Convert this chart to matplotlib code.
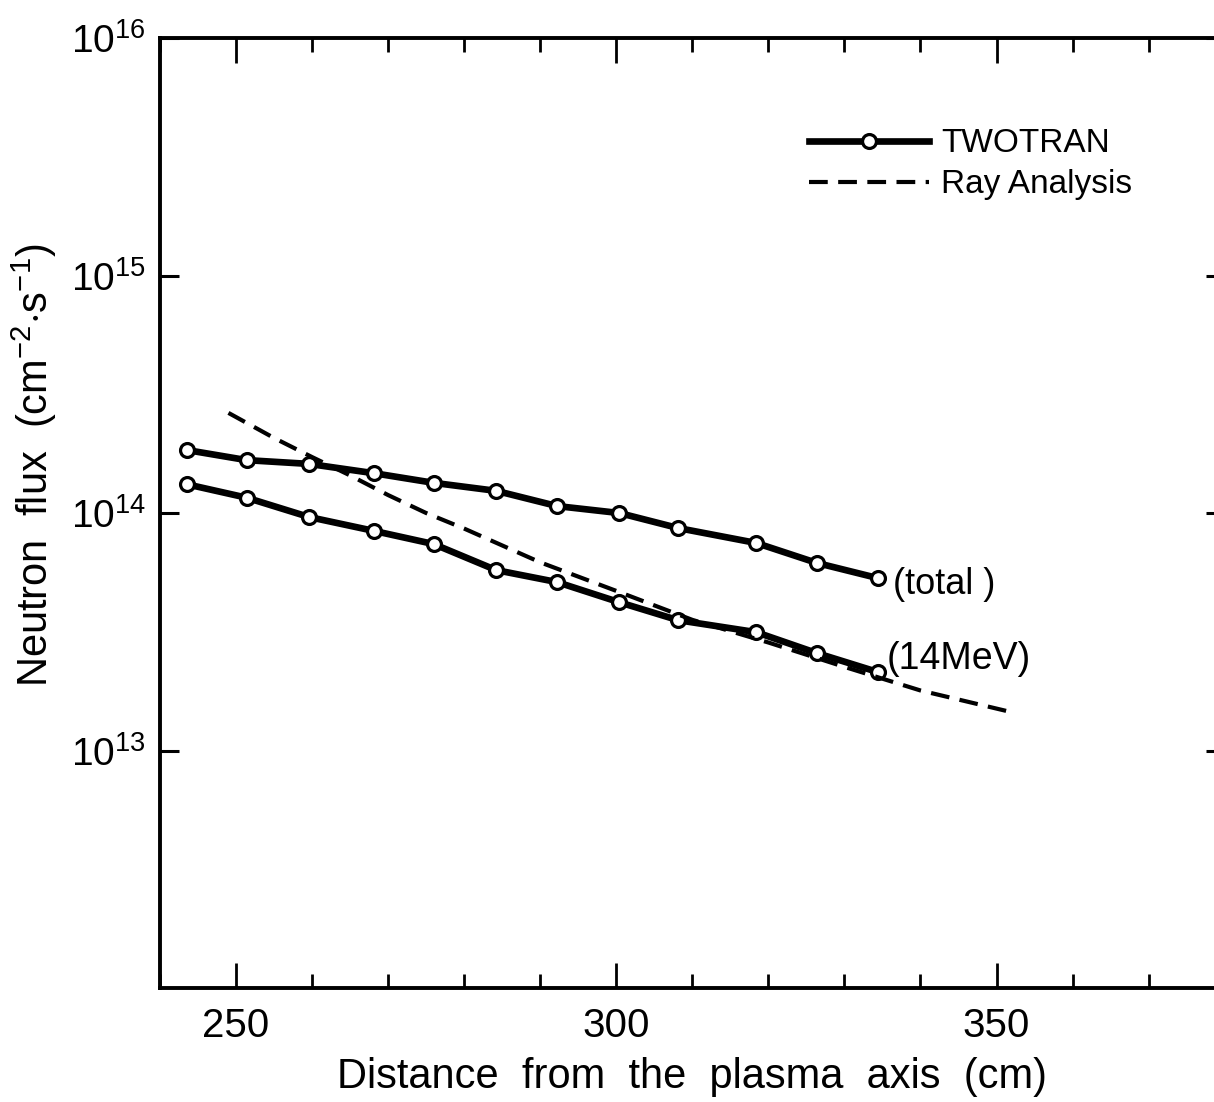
import matplotlib
matplotlib.use("Agg")
import matplotlib.pyplot as plt
from matplotlib.ticker import FixedLocator, MultipleLocator, NullLocator

plt.rcParams['font.family'] = ['Liberation Sans', 'DejaVu Sans']
plt.rcParams['mathtext.fontset'] = 'custom'
plt.rcParams['mathtext.rm'] = 'Liberation Sans'
plt.rcParams['mathtext.it'] = 'Liberation Sans'

# TWOTRAN calculation points (cm, n/cm2/s)
twotran_x = [243.6, 251.4, 259.6, 268.2, 276.0, 284.2, 292.2, 300.4, 308.1, 318.4, 326.4, 334.4]
total_flux = [1.84e14, 1.67e14, 1.61e14, 1.47e14, 1.34e14, 1.24e14, 1.07e14, 1.00e14,
              8.65e13, 7.48e13, 6.16e13, 5.32e13]
mev14_flux = [1.32e14, 1.16e14, 9.62e13, 8.40e13, 7.40e13, 5.75e13, 5.12e13, 4.21e13,
              3.54e13, 3.15e13, 2.57e13, 2.14e13]

# Ray analysis curve
ray_x = [249, 255, 260, 265, 270, 275, 280, 290, 300, 310, 320, 330, 340, 352]
ray_flux = [2.64e14, 2.07e14, 1.72e14, 1.44e14, 1.19e14, 1.00e14, 8.6e13, 6.2e13,
            4.7e13, 3.55e13, 2.85e13, 2.25e13, 1.79e13, 1.45e13]

fig = plt.figure(figsize=(12.14, 11.02), dpi=100)
ax = fig.add_axes([0.1318, 0.1034, 0.877, 0.8621])

line_kw = dict(color='black', lw=4.8, marker='o', markersize=10,
               markerfacecolor='white', markeredgecolor='black', markeredgewidth=2.3)
ax.plot(twotran_x, total_flux, label='TWOTRAN', **line_kw)
ax.plot(twotran_x, mev14_flux, **line_kw)
ax.plot(ray_x, ray_flux, color='black', lw=3.0, linestyle=(0, (4.5, 2.5)),
        label='Ray Analysis')

ax.set_yscale('log')
ax.set_xlim(240, 380)
ax.set_ylim(1e12, 1e16)

ax.xaxis.set_major_locator(FixedLocator([250, 300, 350]))
ax.xaxis.set_minor_locator(MultipleLocator(10))
ax.yaxis.set_major_locator(FixedLocator([1e13, 1e14, 1e15, 1e16]))
ax.yaxis.set_minor_locator(NullLocator())
ax.set_yticklabels([r'$10^{13}$', r'$10^{14}$', r'$10^{15}$', r'$10^{16}$'])

ax.tick_params(axis='x', which='major', direction='in', length=18, width=2,
               top=True, labelsize=29, pad=14)
ax.tick_params(axis='x', which='minor', direction='in', length=10, width=2, top=True)
ax.tick_params(axis='y', which='major', direction='in', length=14, width=2.2,
               right=True, labelsize=28, pad=10)

for sp in ax.spines.values():
    sp.set_linewidth(2.8)

ax.set_xlabel('Distance  from  the  plasma  axis  (cm)', fontsize=30, labelpad=8)
ax.set_ylabel(r'Neutron  flux  (cm$^{-2}$$\cdot$s$^{-1}$)', fontsize=30)
ax.yaxis.set_label_coords(-0.095, 0.55)

# curve labels
ax.text(twotran_x[-1] + 2.0, total_flux[-1] * 0.94, '(total )', fontsize=26,
        ha='left', va='center')
ax.text(twotran_x[-1] + 1.2, mev14_flux[-1] * 1.14, '(14MeV)', fontsize=27,
        ha='left', va='center')

ax.legend(loc='upper left', bbox_to_anchor=(0.61, 0.905), frameon=False,
          fontsize=24, handlelength=3.6, handletextpad=0.35, labelspacing=0.3,
          borderpad=0, borderaxespad=0, numpoints=1)

plt.savefig('out.png', dpi=100)
plt.close()
